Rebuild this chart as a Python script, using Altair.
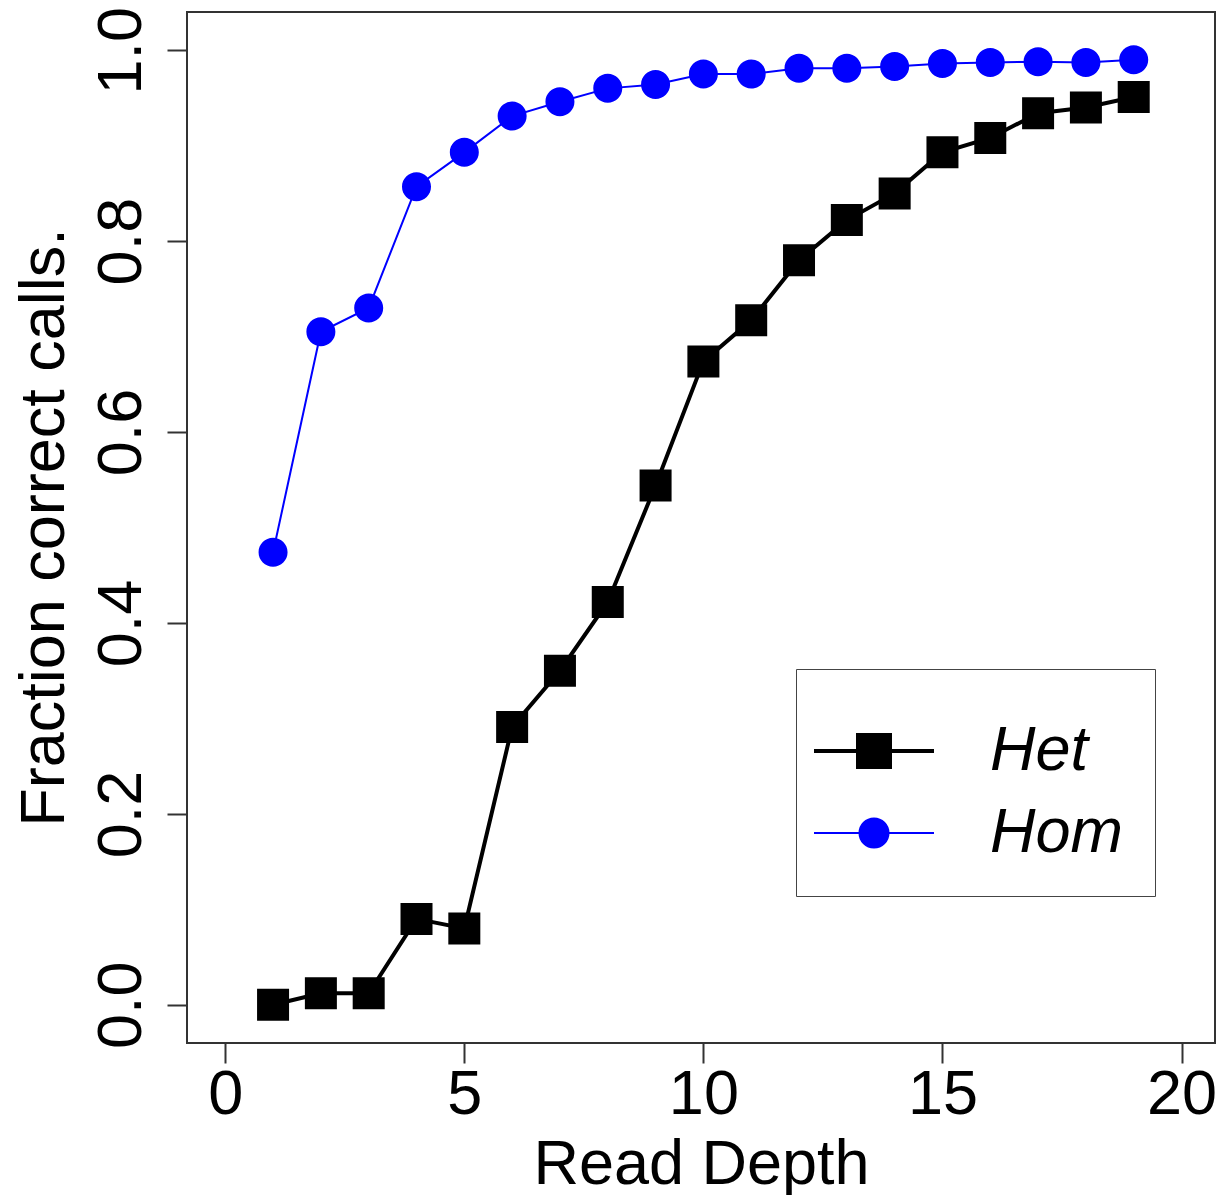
import altair as alt
import pandas as pd

# ---- data ----
depth = list(range(1, 20))
het = [0.000, 0.012, 0.012, 0.090, 0.080, 0.291, 0.350, 0.422, 0.544, 0.674,
       0.717, 0.780, 0.822, 0.850, 0.893, 0.908, 0.934, 0.940, 0.951]
hom = [0.474, 0.705, 0.730, 0.857, 0.893, 0.931, 0.946, 0.960, 0.964, 0.975,
       0.975, 0.981, 0.981, 0.983, 0.986, 0.987, 0.988, 0.987, 0.990]
series = ["Het", "Hom"]
colors = ["#000000", "#0000FF"]
line_widths = [4, 2]
x_ticks = [0, 5, 10, 15, 20]
y_ticks = [0.0, 0.2, 0.4, 0.6, 0.8, 1.0]

rows = []
for d, v in zip(depth, het):
    rows.append({"depth": d, "value": v, "series": "Het"})
for d, v in zip(depth, hom):
    rows.append({"depth": d, "value": v, "series": "Hom"})
df = pd.DataFrame(rows)

FONT = "Liberation Sans"

# custom symbols: marker + horizontal line (the line is only visible where stroked: the legend)
het_path = "M-1.2245,0H1.2245M-0.3265,-0.3265H0.3265V0.3265H-0.3265Z"
hom_path = ("M-1.2245,0H1.2245M0.296,0A0.296,0.296,0,1,1,-0.296,0"
            "A0.296,0.296,0,1,1,0.296,0Z")

x_enc = alt.X("depth:Q",
              scale=alt.Scale(domain=[-0.8, 20.70], nice=False, zero=False),
              axis=alt.Axis(values=x_ticks, title="Read Depth", grid=False, domain=False,
                            tickSize=20, tickWidth=2, tickColor="#333",
                            labelFont=FONT, labelFontSize=63, labelColor="black",
                            labelPadding=0, labelFlush=False,
                            titleFont=FONT, titleFontSize=63, titleFontWeight="normal",
                            titleColor="black", titleBaseline="alphabetic", titleY=140))
y_enc = alt.Y("value:Q",
              scale=alt.Scale(domain=[-0.04, 1.04], nice=False, zero=False),
              axis=alt.Axis(values=y_ticks, format=".1f", title="Fraction correct calls.",
                            grid=False, domain=False,
                            tickSize=20, tickWidth=2, tickColor="#333",
                            labelFont=FONT, labelFontSize=63, labelColor="black",
                            labelAngle=270, labelAlign="center", labelBaseline="alphabetic",
                            labelPadding=27, labelFlush=False,
                            titleFont=FONT, titleFontSize=63, titleFontWeight="normal",
                            titleColor="black", titleAngle=270, titleAlign="center",
                            titleBaseline="alphabetic", titleX=-124, titleY=515))

legend = alt.Legend(title=None, orient="none", legendX=609, legendY=657,
                    direction="vertical", strokeColor="#444", padding=31,
                    symbolSize=9604, symbolOffset=-4,
                    symbolOpacity=1, labelOffset=65, labelFont=FONT,
                    labelFontSize=63, labelFontStyle="italic", labelColor="black",
                    labelLimit=400, rowPadding=-20)

stroke_scale = alt.Scale(domain=series, range=colors)

lines = alt.Chart(df).mark_line().encode(
    x=x_enc, y=y_enc,
    stroke=alt.Stroke("series:N", scale=stroke_scale, legend=legend),
    strokeWidth=alt.StrokeWidth("series:N", scale=alt.Scale(domain=series, range=line_widths),
                                legend=legend),
)

points = alt.Chart(df).mark_point(filled=True, opacity=1).encode(
    x=x_enc, y=y_enc,
    fill=alt.Fill("series:N", scale=alt.Scale(domain=series, range=colors), legend=legend),
    stroke=alt.Stroke("series:N", scale=stroke_scale, legend=legend),
    shape=alt.Shape("series:N", scale=alt.Scale(domain=series, range=[het_path, hom_path]),
                    legend=legend),
    size=alt.value(9604),
    strokeWidth=alt.value(0),
)

chart = alt.layer(lines, points).properties(
    width=1028, height=1031,
    autosize=alt.AutoSizeParams(type="none"),
    padding={"left": 179, "top": 4, "right": 1, "bottom": 152},
).configure(background="white").configure_view(stroke="#333", strokeWidth=2)

chart.save("out.html", embed_options={"renderer": "svg", "actions": False})
